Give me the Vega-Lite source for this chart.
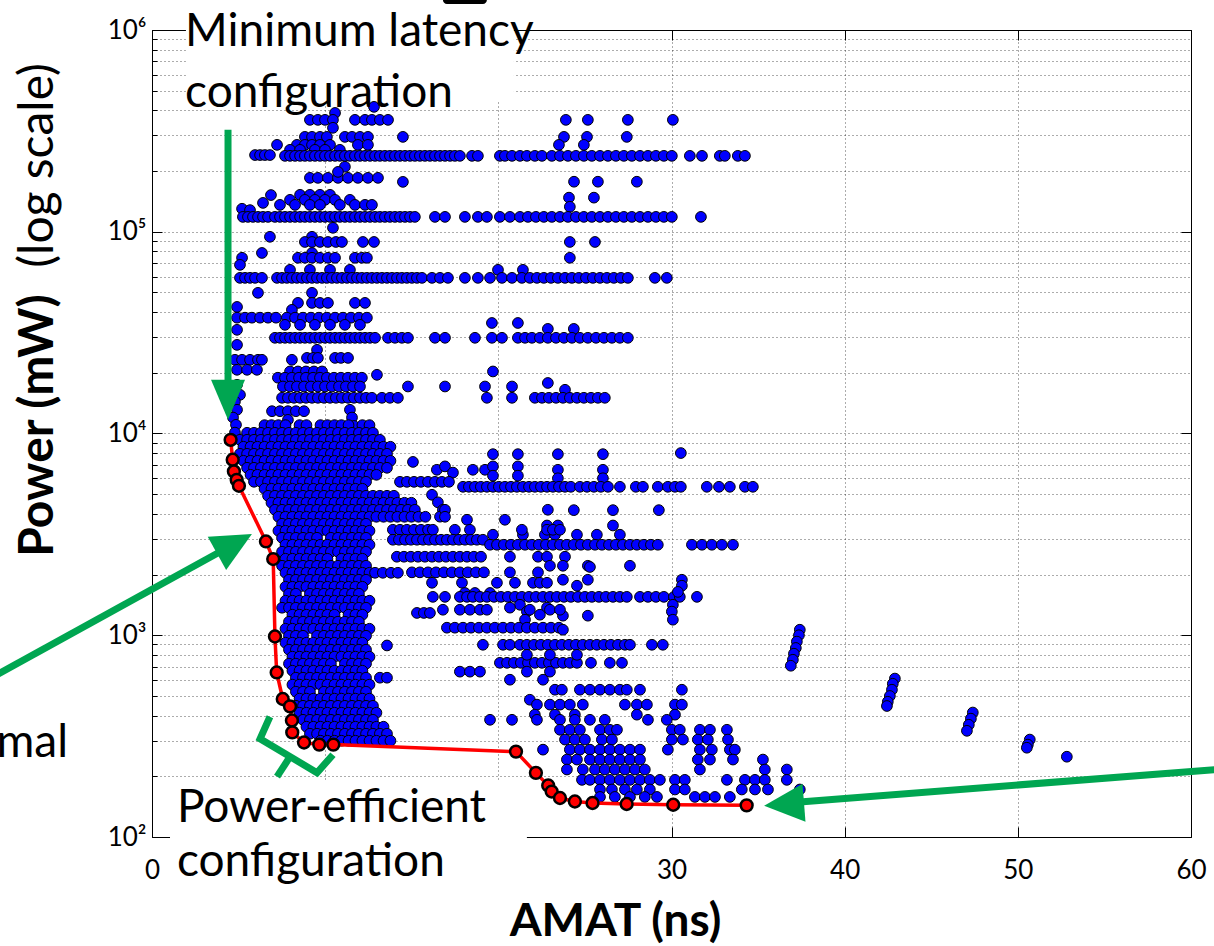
{
  "$schema": "https://vega.github.io/schema/vega-lite/v6.json",
  "width": 1039,
  "height": 807,
  "autosize": "none",
  "padding": {"left": 152, "top": 30, "right": 23, "bottom": 109},
  "background": "white",
  "config": {
    "font": "Lato",
    "view": {"stroke": "#000", "strokeWidth": 1},
    "axis": {"zindex": 0, "labelColor": "#000", "titleColor": "#000", "tickColor": "#000", "gridColor": "#000", "gridDash": [1, 3], "gridOpacity": 0.65, "gridWidth": 1, "labelFont": "Lato", "titleFont": "Lato", "labelFlush": false, "labelOverlap": false}
  },
  "resolve": {"axis": {"x": "independent", "y": "independent"}},
  "layer": [
    {
      "data": {"values": [{"a1": 1.96, "a2": 20.9, "p1": 445400, "p2": 1500000}, {"a1": 1.04, "a2": 21.65, "p1": 51.8, "p2": 190}]},
      "mark": {"type": "rect", "fill": "white", "strokeWidth": 0},
      "encoding": {
        "x": {"field": "a1", "type": "quantitative", "scale": {"domain": [0, 60], "nice": false, "zero": false}, "axis": null},
        "x2": {"field": "a2"},
        "y": {"field": "p1", "type": "quantitative", "scale": {"type": "log", "domain": [100, 1000000], "nice": false}, "axis": null},
        "y2": {"field": "p2"}
      }
    },
    {
      "data": {"values": "amat,power\n12.82,416000\n10.57,388000\n9.12,358600\n9.58,358600\n9.99,358600\n10.45,358600\n11.72,358600\n12.30,358600\n12.70,358600\n13.16,358600\n13.63,358600\n23.90,358600\n25.17,358600\n27.48,358600\n30.08,358600\n10.45,327500\n8.83,295300\n9.24,295300\n9.70,295300\n10.10,295300\n11.14,295300\n11.55,295300\n12.01,295300\n12.47,295300\n14.49,295300\n23.79,295300\n25.12,295300\n27.42,295300\n7.22,269600\n8.37,269600\n8.83,269600\n9.24,269600\n9.70,269600\n10.28,269600\n11.89,269600\n12.47,269600\n23.50,269600\n24.94,269600\n7.97,254700\n8.55,254700\n9.41,254700\n9.99,254700\n10.85,254700\n5.95,240000\n6.24,240000\n6.52,240000\n6.81,240000\n7.68,237800\n7.97,237800\n8.26,237800\n8.55,237800\n8.83,237800\n9.12,237800\n9.41,237800\n9.70,237800\n9.99,237800\n10.28,237800\n10.57,237800\n10.85,237800\n11.14,237800\n11.43,237800\n11.72,237800\n12.01,237800\n12.30,237800\n12.59,237800\n12.88,237800\n13.16,237800\n13.45,237800\n13.74,237800\n14.03,237800\n14.32,237800\n14.61,237800\n14.90,237800\n15.18,237800\n15.47,237800\n15.76,237800\n16.05,237800\n16.34,237800\n16.63,237800\n16.92,237800\n17.21,237800\n17.49,237800\n17.78,237800\n18.48,237800\n18.82,237800\n20.09,237800\n20.38,237800\n20.79,237800\n21.25,237800\n21.65,237800\n22.11,237800\n22.52,237800\n23.09,237800\n23.56,237800\n24.02,237800\n24.48,237800\n24.94,237800\n25.40,237800\n25.87,237800\n26.33,237800\n26.79,237800\n27.25,237800\n27.71,237800\n28.18,237800\n28.64,237800\n29.10,237800\n29.56,237800\n30.02,237800\n31.06,237800\n31.76,237800\n32.79,237800\n33.08,237800\n33.83,237800\n34.24,237800\n6.41,139000\n6.87,152000\n9.12,185000\n9.58,185000\n10.16,185000\n10.74,185000\n11.32,185000\n11.89,185000\n12.47,185000\n13.05,185000\n14.49,176700\n11.14,210000\n10.74,198000\n24.37,177000\n25.75,177000\n28.00,177000\n24.08,147600\n25.52,147600\n24.13,133000\n8.55,152400\n9.12,152400\n9.70,152400\n10.28,152400\n7.97,143900\n8.83,143900\n9.41,143900\n9.99,143900\n10.57,143900\n11.43,143900\n7.39,135900\n8.26,135900\n9.12,135900\n9.70,135900\n10.85,135900\n11.72,135900\n12.30,135900\n12.70,135900\n5.20,130000\n5.66,128000\n5.25,118500\n5.54,118500\n5.83,118500\n6.12,118500\n6.41,118500\n6.70,118500\n7.10,118500\n7.39,118500\n7.68,118500\n7.97,118500\n8.26,118500\n8.55,118500\n8.83,118500\n9.12,118500\n9.41,118500\n9.70,118500\n9.99,118500\n10.28,118500\n10.57,118500\n10.85,118500\n11.14,118500\n11.43,118500\n11.72,118500\n12.01,118500\n12.30,118500\n12.59,118500\n12.88,118500\n13.16,118500\n13.45,118500\n13.74,118500\n14.03,118500\n14.32,118500\n14.61,118500\n14.90,118500\n15.18,118500\n16.34,118500\n16.92,118500\n18.07,118500\n18.82,118500\n19.34,118500\n20.09,118500\n20.67,118500\n21.25,118500\n21.71,118500\n22.17,118500\n22.63,118500\n23.09,118500\n23.56,118500\n24.02,118500\n24.48,118500\n24.94,118500\n25.40,118500\n25.87,118500\n26.33,118500\n26.79,118500\n27.25,118500\n27.71,118500\n28.18,118500\n28.64,118500\n29.10,118500\n29.56,118500\n30.02,118500\n31.70,118500\n10.45,104600\n6.81,94400\n9.24,94400\n8.83,89000\n9.24,89000\n9.70,89000\n10.16,89000\n10.62,89000\n10.97,89000\n12.18,89000\n12.82,89000\n6.35,78500\n9.24,78500\n5.20,74300\n8.43,74300\n8.83,74300\n9.24,74300\n9.70,74300\n10.16,74300\n10.57,74300\n11.72,74300\n12.12,74300\n12.41,74300\n19.98,64750\n21.42,64750\n24.13,74300\n24.13,89000\n25.58,89000\n5.08,68550\n7.97,64750\n9.12,64750\n10.28,64750\n11.43,64750\n5.08,59090\n5.37,59090\n5.66,59090\n5.95,59090\n6.35,59090\n7.22,59090\n7.51,59090\n7.79,59090\n8.08,59090\n8.37,59090\n8.66,59090\n8.95,59090\n9.24,59090\n9.53,59090\n9.82,59090\n10.10,59090\n10.39,59090\n10.68,59090\n10.97,59090\n11.26,59090\n11.55,59090\n11.84,59090\n12.12,59090\n12.41,59090\n12.70,59090\n12.99,59090\n13.28,59090\n13.57,59090\n13.86,59090\n14.15,59090\n14.43,59090\n14.72,59090\n15.01,59090\n15.30,59090\n15.59,59090\n16.17,59090\n16.63,59090\n17.09,59090\n18.07,59090\n18.82,59090\n19.52,59090\n20.21,59090\n20.79,59090\n21.36,59090\n21.82,59090\n22.23,59090\n22.63,59090\n23.04,59090\n23.44,59090\n23.85,59090\n24.25,59090\n24.65,59090\n25.06,59090\n25.46,59090\n25.87,59090\n26.27,59090\n26.67,59090\n27.08,59090\n27.48,59090\n29.04,59090\n29.73,59090\n6.12,49800\n9.24,49800\n8.43,44400\n9.24,44400\n9.70,44400\n10.16,44400\n11.72,44400\n12.30,44400\n4.91,42400\n8.08,41020\n4.91,37500\n5.37,37500\n5.77,37500\n6.24,37500\n6.70,37500\n7.16,37500\n7.79,37500\n8.26,37500\n8.72,37500\n9.18,37500\n9.64,37500\n10.10,37500\n10.57,37500\n11.03,37500\n11.49,37500\n11.95,37500\n12.41,37500\n7.68,34570\n8.55,34570\n9.41,34570\n10.28,34570\n11.14,34570\n12.01,34570\n19.63,35300\n21.13,35300\n22.86,33000\n24.36,33000\n4.91,32650\n7.10,29810\n7.39,29810\n7.68,29810\n7.97,29810\n8.26,29810\n8.55,29810\n8.83,29810\n9.12,29810\n9.41,29810\n9.70,29810\n9.99,29810\n10.28,29810\n10.57,29810\n10.85,29810\n11.14,29810\n11.43,29810\n11.72,29810\n12.01,29810\n12.30,29810\n12.59,29810\n12.88,29810\n13.63,29810\n14.03,29810\n14.43,29810\n14.78,29810\n16.34,29810\n16.92,29810\n18.65,29810\n19.63,29810\n20.21,29810\n21.13,29810\n21.54,29810\n21.94,29810\n22.40,29810\n22.86,29810\n23.33,29810\n23.79,29810\n24.25,29810\n24.71,29810\n25.17,29810\n25.64,29810\n26.10,29810\n26.56,29810\n27.02,29810\n27.48,29810\n4.91,27500\n4.79,23190\n5.20,23190\n5.66,23190\n6.12,23190\n6.35,23190\n8.08,23190\n4.91,20690\n5.49,20690\n6.06,20690\n9.53,25990\n8.95,23700\n9.30,23700\n9.58,23700\n10.57,23700\n10.91,23700\n11.32,23700\n7.97,20300\n8.43,20300\n8.89,20300\n9.35,20300\n9.82,20300\n19.69,20300\n7.27,18900\n7.68,18900\n8.08,18900\n8.49,18900\n8.89,18900\n9.30,18900\n9.70,18900\n10.10,18900\n10.51,18900\n10.91,18900\n11.32,18900\n11.72,18900\n12.12,18900\n12.99,19540\n7.56,17100\n7.97,17100\n8.37,17100\n8.78,17100\n9.18,17100\n9.58,17100\n9.99,17100\n10.39,17100\n10.80,17100\n11.20,17100\n11.61,17100\n12.01,17100\n14.78,17100\n16.92,17100\n19.23,17100\n20.79,17100\n22.86,17800\n23.85,16470\n4.91,17430\n5.08,15550\n7.51,15030\n7.85,15030\n8.20,15030\n8.55,15030\n8.89,15030\n9.24,15030\n9.58,15030\n9.93,15030\n10.28,15030\n10.62,15030\n10.97,15030\n11.32,15030\n11.66,15030\n12.01,15030\n12.36,15030\n12.70,15030\n13.28,15030\n13.74,15030\n14.20,15030\n19.34,15030\n20.79,15030\n22.11,15030\n22.52,15030\n22.92,15030\n23.33,15030\n23.73,15030\n24.13,15030\n24.54,15030\n24.94,15030\n25.35,15030\n25.75,15030\n26.15,15030\n4.79,14400\n4.91,13110\n4.68,12000\n4.85,11040\n4.79,10100\n6.93,12900\n7.39,12900\n7.85,12900\n8.31,12900\n8.78,12900\n11.43,13110\n11.55,12000\n11.66,10900\n7.85,11690\n8.55,10100\n7.97,9580\n9.99,9854\n11.14,9600\n11.72,8790\n12.12,9307\n6.52,9307\n6.50,11000\n6.90,11000\n7.30,11000\n7.71,11000\n8.52,11000\n8.92,11000\n9.73,11000\n10.13,11000\n10.54,11000\n10.94,11000\n11.35,11000\n12.15,11000\n12.56,11000\n5.49,10080\n5.89,10080\n6.29,10080\n6.70,10080\n7.10,10080\n7.51,10080\n7.91,10080\n8.31,10080\n8.72,10080\n9.12,10080\n9.53,10080\n9.93,10080\n10.33,10080\n10.74,10080\n11.14,10080\n11.55,10080\n11.95,10080\n12.36,10080\n12.76,10080\n5.08,9307\n5.49,9307\n5.89,9307\n6.29,9307\n6.70,9307\n7.10,9307\n7.51,9307\n7.91,9307\n8.31,9307\n8.72,9307\n9.12,9307\n9.53,9307\n9.93,9307\n10.33,9307\n10.74,9307\n11.14,9307\n11.55,9307\n11.95,9307\n12.36,9307\n12.76,9307\n13.16,9307\n5.28,8595\n5.69,8595\n6.09,8595\n6.50,8595\n6.90,8595\n7.30,8595\n7.71,8595\n8.11,8595\n8.52,8595\n8.92,8595\n9.32,8595\n9.73,8595\n10.13,8595\n10.54,8595\n10.94,8595\n11.35,8595\n11.75,8595\n12.15,8595\n12.56,8595\n12.96,8595\n13.37,8595\n13.77,8595\n5.08,7932\n5.49,7932\n5.89,7932\n6.29,7932\n6.70,7932\n7.10,7932\n7.51,7932\n7.91,7932\n8.31,7932\n8.72,7932\n9.12,7932\n9.53,7932\n9.93,7932\n10.33,7932\n10.74,7932\n11.14,7932\n11.55,7932\n11.95,7932\n12.36,7932\n12.76,7932\n13.16,7932\n13.57,7932\n5.28,7322\n5.69,7322\n6.09,7322\n6.50,7322\n6.90,7322\n7.30,7322\n7.71,7322\n8.11,7322\n8.52,7322\n8.92,7322\n9.32,7322\n9.73,7322\n10.13,7322\n10.54,7322\n10.94,7322\n11.35,7322\n11.75,7322\n12.15,7322\n12.56,7322\n12.96,7322\n13.37,7322\n13.77,7322\n5.49,6761\n5.89,6761\n6.29,6761\n6.70,6761\n7.10,6761\n7.51,6761\n7.91,6761\n8.31,6761\n8.72,6761\n9.12,6761\n9.53,6761\n9.93,6761\n10.33,6761\n10.74,6761\n11.14,6761\n11.55,6761\n11.95,6761\n12.36,6761\n12.76,6761\n13.16,6761\n13.57,6761\n5.69,6242\n6.09,6242\n6.50,6242\n6.90,6242\n7.30,6242\n7.71,6242\n8.11,6242\n8.52,6242\n8.92,6242\n9.32,6242\n9.73,6242\n10.13,6242\n10.54,6242\n10.94,6242\n11.35,6242\n11.75,6242\n12.15,6242\n12.56,6242\n12.96,6242\n5.89,5764\n6.29,5764\n6.70,5764\n7.10,5764\n7.51,5764\n7.91,5764\n8.31,5764\n8.72,5764\n9.12,5764\n9.53,5764\n9.93,5764\n10.33,5764\n10.74,5764\n11.14,5764\n11.55,5764\n11.95,5764\n12.36,5764\n6.50,5321\n6.90,5321\n7.30,5321\n7.71,5321\n8.11,5321\n8.52,5321\n8.92,5321\n9.32,5321\n9.73,5321\n10.13,5321\n10.54,5321\n10.94,5321\n11.35,5321\n11.75,5321\n12.15,5321\n6.70,4913\n7.10,4913\n7.51,4913\n7.91,4913\n8.31,4913\n8.72,4913\n9.12,4913\n9.53,4913\n9.93,4913\n10.33,4913\n10.74,4913\n11.14,4913\n11.55,4913\n11.95,4913\n12.36,4913\n12.76,4913\n13.16,4913\n13.57,4913\n13.97,4913\n6.90,4536\n7.30,4536\n7.71,4536\n8.11,4536\n8.52,4536\n8.92,4536\n9.32,4536\n9.73,4536\n10.13,4536\n10.54,4536\n10.94,4536\n11.35,4536\n11.75,4536\n12.15,4536\n12.56,4536\n12.96,4536\n13.37,4536\n13.77,4536\n14.17,4536\n14.58,4536\n14.98,4536\n7.10,4187\n7.51,4187\n7.91,4187\n8.31,4187\n8.72,4187\n9.12,4187\n9.53,4187\n9.93,4187\n10.33,4187\n10.74,4187\n11.14,4187\n11.55,4187\n11.95,4187\n12.36,4187\n12.76,4187\n13.16,4187\n13.57,4187\n13.97,4187\n14.38,4187\n14.78,4187\n15.18,4187\n7.30,3866\n7.71,3866\n8.11,3866\n8.52,3866\n8.92,3866\n9.32,3866\n9.73,3866\n10.13,3866\n10.54,3866\n10.94,3866\n11.35,3866\n11.75,3866\n12.15,3866\n12.56,3866\n12.96,3866\n13.37,3866\n13.77,3866\n14.17,3866\n14.58,3866\n14.98,3866\n15.39,3866\n15.79,3866\n7.51,3569\n7.91,3569\n8.31,3569\n8.72,3569\n9.12,3569\n9.53,3569\n9.93,3569\n10.33,3569\n10.74,3569\n11.14,3569\n11.55,3569\n11.95,3569\n12.36,3569\n7.30,3295\n7.71,3295\n8.11,3295\n8.52,3295\n8.92,3295\n9.32,3295\n9.73,3295\n10.13,3295\n10.54,3295\n10.94,3295\n11.35,3295\n11.75,3295\n12.15,3295\n12.56,3295\n7.51,3042\n7.91,3042\n8.31,3042\n8.72,3042\n9.12,3042\n9.53,3042\n10.33,3042\n10.74,3042\n11.14,3042\n11.55,3042\n11.95,3042\n12.36,3042\n7.71,2809\n8.11,2809\n8.52,2809\n8.92,2809\n9.32,2809\n9.73,2809\n10.13,2809\n10.54,2809\n10.94,2809\n11.35,2809\n11.75,2809\n12.15,2809\n12.56,2809\n7.51,2593\n7.91,2593\n8.31,2593\n8.72,2593\n9.12,2593\n9.53,2593\n9.93,2593\n10.33,2593\n10.74,2593\n11.14,2593\n11.55,2593\n11.95,2593\n12.36,2593\n7.71,2394\n8.11,2394\n8.52,2394\n8.92,2394\n9.32,2394\n9.73,2394\n10.13,2394\n10.94,2394\n11.35,2394\n11.75,2394\n12.15,2394\n7.51,2210\n7.91,2210\n8.31,2210\n8.72,2210\n9.12,2210\n9.53,2210\n9.93,2210\n10.33,2210\n10.74,2210\n11.14,2210\n11.55,2210\n11.95,2210\n12.36,2210\n7.71,2040\n8.11,2040\n8.52,2040\n8.92,2040\n9.32,2040\n9.73,2040\n10.13,2040\n10.54,2040\n10.94,2040\n11.35,2040\n11.75,2040\n12.15,2040\n12.56,2040\n12.88,2040\n13.33,2040\n13.80,2040\n14.20,2040\n7.91,1884\n8.31,1884\n8.72,1884\n9.12,1884\n9.53,1884\n9.93,1884\n10.33,1884\n10.74,1884\n11.14,1884\n11.55,1884\n11.95,1884\n12.36,1884\n7.71,1739\n8.11,1739\n8.52,1739\n8.92,1739\n9.32,1739\n9.73,1739\n10.13,1739\n10.54,1739\n10.94,1739\n11.35,1739\n11.75,1739\n12.15,1739\n7.91,1606\n8.31,1606\n9.12,1606\n9.53,1606\n9.93,1606\n10.33,1606\n10.74,1606\n11.14,1606\n11.55,1606\n11.95,1606\n7.71,1483\n8.11,1483\n8.52,1483\n8.92,1483\n9.32,1483\n9.73,1483\n10.13,1483\n10.54,1483\n10.94,1483\n11.35,1483\n11.75,1483\n12.15,1483\n12.56,1483\n7.51,1369\n7.91,1369\n8.31,1369\n8.72,1369\n9.12,1369\n9.53,1369\n9.93,1369\n10.33,1369\n10.74,1369\n11.14,1369\n11.55,1369\n11.95,1369\n12.36,1369\n8.11,1264\n8.52,1264\n8.92,1264\n9.32,1264\n9.73,1264\n10.13,1264\n10.54,1264\n11.35,1264\n11.75,1264\n12.15,1264\n7.91,1167\n8.31,1167\n8.72,1167\n9.12,1167\n9.53,1167\n9.93,1167\n10.33,1167\n10.74,1167\n11.14,1167\n11.55,1167\n11.95,1167\n7.71,1077\n8.11,1077\n8.52,1077\n8.92,1077\n9.32,1077\n9.73,1077\n10.13,1077\n10.54,1077\n10.94,1077\n11.35,1077\n11.75,1077\n12.15,1077\n12.56,1077\n7.91,994\n8.31,994\n8.72,994\n9.53,994\n9.93,994\n10.33,994\n10.74,994\n11.14,994\n11.55,994\n11.95,994\n12.36,994\n7.71,918\n8.11,918\n8.52,918\n8.92,918\n9.32,918\n9.73,918\n10.13,918\n10.54,918\n10.94,918\n11.35,918\n11.75,918\n12.15,918\n7.91,848\n8.31,848\n8.72,848\n9.12,848\n9.53,848\n9.93,848\n10.33,848\n10.74,848\n11.14,848\n11.55,848\n11.95,848\n12.36,848\n8.11,783\n8.52,783\n8.92,783\n9.32,783\n9.73,783\n10.13,783\n10.54,783\n10.94,783\n11.35,783\n11.75,783\n12.15,783\n12.56,783\n7.91,723\n8.31,723\n8.72,723\n9.12,723\n9.53,723\n9.93,723\n10.33,723\n11.14,723\n11.55,723\n11.95,723\n12.36,723\n8.11,667\n8.52,667\n8.92,667\n9.32,667\n9.73,667\n10.13,667\n10.54,667\n10.94,667\n11.35,667\n11.75,667\n12.15,667\n8.31,616\n8.72,616\n9.12,616\n9.53,616\n9.93,616\n10.33,616\n10.74,616\n11.14,616\n11.55,616\n11.95,616\n12.36,616\n13.16,616\n13.57,616\n8.11,569\n8.52,569\n8.92,569\n9.32,569\n9.73,569\n10.13,569\n10.54,569\n10.94,569\n11.35,569\n11.75,569\n12.15,569\n12.56,569\n8.31,525\n8.72,525\n9.12,525\n9.93,525\n10.33,525\n10.74,525\n11.14,525\n11.55,525\n11.95,525\n12.36,525\n8.52,485\n8.92,485\n9.32,485\n9.73,485\n10.13,485\n10.54,485\n10.94,485\n11.35,485\n11.75,485\n12.15,485\n12.56,485\n8.31,447\n8.72,447\n9.12,447\n9.53,447\n9.93,447\n10.33,447\n10.74,447\n11.14,447\n11.55,447\n11.95,447\n12.36,447\n12.76,447\n8.52,413\n8.92,413\n9.32,413\n9.73,413\n10.13,413\n10.54,413\n10.94,413\n11.35,413\n11.75,413\n12.15,413\n12.56,413\n12.96,413\n8.72,381\n9.12,381\n9.53,381\n9.93,381\n10.33,381\n10.74,381\n11.14,381\n11.55,381\n11.95,381\n12.36,381\n12.76,381\n8.92,352\n9.32,352\n9.73,352\n10.13,352\n10.54,352\n10.94,352\n11.35,352\n11.75,352\n12.15,352\n12.56,352\n12.96,352\n13.37,352\n9.12,325\n9.53,325\n9.93,325\n10.33,325\n10.74,325\n11.14,325\n11.55,325\n11.95,325\n12.36,325\n12.76,325\n13.16,325\n13.57,325\n9.73,300\n10.13,300\n10.54,300\n10.94,300\n11.35,300\n11.75,300\n12.15,300\n12.56,300\n12.96,300\n13.37,300\n13.77,300\n19.69,7900\n21.13,7900\n23.44,7900\n26.04,7900\n30.54,8000\n15.07,7230\n19.23,6609\n19.69,6870\n19.69,6180\n21.13,6870\n21.13,6180\n23.44,6609\n23.44,6000\n26.04,6609\n26.04,6000\n16.45,6609\n16.92,6870\n17.38,6400\n18.53,6609\n14.32,5760\n14.72,5760\n15.13,5760\n15.53,5760\n15.94,5760\n16.34,5760\n16.74,5760\n17.15,5760\n17.96,5443\n18.30,5443\n18.65,5443\n18.99,5443\n19.34,5443\n19.69,5443\n20.03,5443\n20.38,5443\n20.73,5443\n21.07,5443\n21.42,5443\n21.77,5443\n22.11,5443\n22.46,5443\n22.81,5443\n23.15,5443\n23.50,5443\n23.85,5443\n24.19,5443\n24.71,5443\n25.12,5443\n25.52,5443\n25.92,5443\n26.33,5443\n27.02,5443\n27.94,5443\n28.35,5443\n29.21,5443\n29.79,5443\n30.20,5443\n30.54,5443\n32.04,5443\n32.74,5443\n33.37,5443\n34.24,5443\n34.70,5443\n16.17,4968\n16.51,4560\n16.80,4187\n16.63,3870\n16.92,4187\n18.19,3736\n20.38,3736\n22.86,4187\n24.36,4170\n26.62,4170\n29.27,4170\n22.81,3500\n23.44,3500\n26.62,3500\n19.69,3150\n21.42,3150\n22.69,3150\n23.27,3150\n24.54,3150\n25.69,3150\n27.02,3150\n16.92,3866\n13.91,3333\n14.32,3333\n14.72,3333\n15.13,3333\n15.53,3333\n15.94,3333\n16.22,3333\n17.49,3333\n18.36,3333\n21.36,3333\n22.81,3333\n23.15,3333\n23.56,3333\n13.91,2974\n14.26,2974\n14.61,2974\n14.95,2974\n15.30,2974\n15.65,2974\n15.99,2974\n16.34,2974\n16.69,2974\n17.03,2974\n17.38,2974\n17.73,2974\n18.07,2974\n18.42,2974\n18.76,2974\n19.11,2974\n19.52,2809\n19.92,2809\n20.32,2809\n20.73,2809\n21.13,2809\n21.54,2809\n21.94,2809\n22.34,2809\n22.75,2809\n23.15,2809\n23.56,2809\n23.96,2809\n24.36,2809\n24.77,2809\n25.17,2809\n25.58,2809\n25.98,2809\n26.39,2809\n26.79,2809\n27.19,2809\n27.60,2809\n28.00,2809\n28.41,2809\n28.81,2809\n29.21,2809\n31.18,2809\n31.76,2809\n32.33,2809\n32.91,2809\n33.55,2809\n14.14,2450\n14.55,2450\n14.95,2450\n15.36,2450\n15.76,2450\n16.17,2450\n16.57,2450\n16.97,2450\n17.38,2450\n17.78,2450\n18.19,2450\n18.59,2450\n19.00,2450\n20.67,2450\n22.29,2450\n22.81,2450\n23.85,2450\n22.98,2210\n23.73,2210\n25.17,2210\n27.60,2210\n25.29,2180\n15.01,2050\n15.47,2050\n15.94,2050\n16.40,2050\n16.86,2050\n17.32,2050\n17.78,2050\n18.24,2050\n18.71,2050\n19.17,2050\n20.67,2050\n22.29,2050\n23.73,1884\n25.17,1884\n30.60,1884\n16.17,1820\n17.90,1820\n19.92,1820\n20.96,1820\n22.00,1820\n22.40,1820\n22.81,1820\n24.54,1760\n30.60,1760\n18.07,1620\n18.65,1620\n19.52,1620\n16.22,1550\n16.92,1550\n17.78,1550\n18.19,1550\n18.53,1550\n18.94,1550\n19.34,1550\n19.75,1550\n20.15,1550\n20.55,1550\n20.96,1550\n21.36,1550\n21.77,1550\n22.17,1550\n22.58,1550\n22.98,1550\n23.38,1550\n23.79,1550\n24.19,1550\n24.60,1550\n25.00,1550\n25.40,1550\n25.81,1550\n26.21,1550\n26.62,1550\n27.02,1550\n27.42,1550\n28.18,1550\n28.64,1550\n29.10,1550\n29.56,1550\n30.14,1550\n30.48,1550\n31.47,1550\n30.37,1640\n30.08,1416\n30.02,1310\n30.08,1194\n21.25,1416\n21.65,1310\n22.81,1370\n20.67,1370\n23.73,1250\n25.17,1250\n21.54,1194\n22.40,1264\n16.80,1338\n17.78,1338\n18.36,1338\n18.94,1338\n19.34,1338\n21.82,1338\n22.98,1338\n23.56,1338\n15.30,1290\n15.70,1290\n16.05,1290\n17.03,1090\n17.49,1090\n17.96,1090\n18.42,1090\n18.88,1090\n19.34,1090\n19.80,1090\n20.27,1090\n20.73,1090\n21.19,1090\n21.65,1090\n22.11,1090\n22.58,1090\n23.04,1090\n23.50,1090\n23.73,1065\n13.57,890\n19.11,897\n20.27,897\n20.67,897\n21.25,897\n21.65,897\n22.06,897\n22.46,897\n22.86,897\n23.27,897\n23.67,897\n24.08,897\n24.48,897\n24.88,897\n25.29,897\n25.69,897\n26.10,897\n26.50,897\n26.91,897\n27.31,897\n27.60,897\n28.87,897\n29.50,897\n20.09,730\n20.50,730\n20.90,730\n21.30,730\n21.71,730\n22.11,730\n22.52,730\n22.92,730\n23.33,730\n23.73,730\n24.13,730\n24.54,730\n25.35,730\n26.44,730\n27.14,730\n21.65,800\n22.98,800\n24.54,800\n17.78,660\n18.36,660\n18.94,660\n21.65,660\n22.98,660\n20.67,602\n22.58,602\n23.27,537\n23.67,537\n24.71,537\n25.29,537\n25.87,537\n26.44,537\n27.02,537\n27.42,537\n28.18,537\n30.60,537\n21.82,479\n22.23,453\n22.98,453\n23.56,453\n24.13,453\n24.88,453\n27.31,453\n28.00,453\n28.58,453\n30.20,453\n30.60,453\n22.11,404\n23.27,404\n24.42,404\n28.00,404\n30.20,404\n19.52,381\n20.79,381\n22.23,381\n23.56,381\n24.42,381\n25.29,381\n26.15,381\n28.64,381\n29.73,381\n23.56,340\n24.13,340\n24.71,340\n25.87,340\n26.44,340\n26.85,340\n30.02,340\n30.48,340\n31.64,340\n32.22,340\n33.20,340\n23.85,304\n24.42,304\n25.00,304\n25.98,304\n26.56,304\n30.02,304\n30.66,304\n31.52,304\n32.10,304\n33.26,304\n22.58,271\n24.13,271\n24.71,271\n25.29,271\n25.87,271\n26.44,271\n27.02,271\n27.60,271\n28.18,271\n29.79,271\n31.64,271\n32.33,271\n33.37,271\n33.66,271\n23.96,242\n24.54,242\n25.29,242\n25.87,242\n26.44,242\n27.02,242\n27.60,242\n28.18,242\n31.52,242\n32.22,242\n33.55,242\n35.28,242\n23.96,216\n24.88,216\n25.58,216\n26.15,216\n26.73,216\n27.31,216\n27.89,216\n28.46,216\n31.64,216\n35.39,216\n36.66,216\n24.83,192\n25.29,192\n25.87,192\n26.44,192\n27.02,192\n27.60,192\n28.18,192\n28.75,192\n29.33,192\n30.20,192\n30.77,192\n33.20,192\n34.24,192\n34.82,192\n35.39,192\n36.66,192\n25.87,172\n26.56,172\n27.31,172\n28.00,172\n28.75,172\n30.20,172\n30.77,172\n34.06,172\n34.82,172\n35.57,172\n37.41,172\n25.87,158\n26.73,158\n27.60,158\n28.46,158\n29.16,158\n31.35,158\n31.93,158\n32.51,158\n33.37,158\n37.41,1065\n37.36,1000\n37.24,930\n37.18,865\n37.07,810\n37.01,756\n36.89,706\n42.90,610\n42.78,575\n42.73,537\n42.61,500\n42.49,468\n42.44,446\n47.40,414\n47.29,386\n47.17,360\n47.06,336\n50.69,304\n50.58,287\n50.52,277\n52.83,250", "format": {"type": "csv", "parse": {"amat": "number", "power": "number"}}},
      "mark": {"type": "point", "shape": "circle", "filled": true, "fill": "#0000ff", "stroke": "#000", "strokeWidth": 1, "size": 115, "opacity": 1},
      "encoding": {
        "x": {"field": "amat", "type": "quantitative", "scale": {"domain": [0, 60], "nice": false, "zero": false},
          "axis": {"orient": "bottom", "values": [0, 10, 20, 30, 40, 50, 60], "grid": true, "domain": false, "tickSize": -10, "labelFontSize": 26, "labelPadding": 30, "labelExpr": "datum.value == 10 || datum.value == 20 ? '' : datum.label", "title": "AMAT (ns)", "titleFontSize": 46, "titleFontWeight": "bold", "titleX": 463, "titleY": 98, "titleBaseline": "alphabetic", "titleAlign": "center", "titleAnchor": null}},
        "y": {"field": "power", "type": "quantitative", "scale": {"type": "log", "domain": [100, 1000000], "nice": false},
          "axis": {"orient": "left", "values": [100, 1000, 10000, 100000, 1000000], "grid": true, "domain": false, "tickSize": -10, "labelFontSize": 26, "labelPadding": 16, "labelBaseline": "middle", "labelExpr": "datum.value == 100 ? '10²' : datum.value == 1000 ? '10³' : datum.value == 10000 ? '10⁴' : datum.value == 100000 ? '10⁵' : '10⁶'", "title": "Power (mW)", "titleFontSize": 48, "titleFontWeight": "bold", "titleX": -100, "titleY": 395, "titleAngle": 270, "titleBaseline": "alphabetic", "titleAlign": "center", "titleAnchor": null}}
      }
    },
    {
      "data": {"name": "pareto", "values": [
        {"amat": 4.54, "power": 9305}, {"amat": 4.66, "power": 7413}, {"amat": 4.73, "power": 6486}, {"amat": 4.89, "power": 5893}, {"amat": 5.02, "power": 5505},
        {"amat": 6.58, "power": 2917}, {"amat": 7.00, "power": 2386}, {"amat": 7.10, "power": 986}, {"amat": 7.20, "power": 654}, {"amat": 7.55, "power": 483},
        {"amat": 7.97, "power": 444}, {"amat": 8.08, "power": 378}, {"amat": 8.10, "power": 330}, {"amat": 8.78, "power": 294}, {"amat": 9.66, "power": 287},
        {"amat": 10.47, "power": 287}, {"amat": 21.02, "power": 265}, {"amat": 22.17, "power": 208}, {"amat": 22.88, "power": 180}, {"amat": 23.08, "power": 168},
        {"amat": 23.56, "power": 156}, {"amat": 24.42, "power": 150}, {"amat": 25.44, "power": 147.4}, {"amat": 27.41, "power": 145.7}, {"amat": 30.10, "power": 144.5}, {"amat": 34.34, "power": 143.5}
      ]},
      "mark": {"type": "line", "color": "#ff0000", "strokeWidth": 3.5},
      "encoding": {
        "x": {"field": "amat", "type": "quantitative", "scale": {"domain": [0, 60], "nice": false, "zero": false},
          "axis": {"orient": "top", "values": [0, 10, 20, 30, 40, 50, 60], "grid": false, "domain": false, "labels": false, "tickSize": -10, "title": null}},
        "y": {"field": "power", "type": "quantitative", "scale": {"type": "log", "domain": [100, 1000000], "nice": false},
          "axis": {"orient": "left", "values": [200, 300, 400, 500, 600, 700, 800, 900, 2000, 3000, 4000, 5000, 6000, 7000, 8000, 9000, 20000, 30000, 40000, 50000, 60000, 70000, 80000, 90000, 200000, 300000, 400000, 500000, 600000, 700000, 800000, 900000], "grid": true, "domain": false, "labels": false, "tickSize": -5, "title": "(log scale)", "titleFontSize": 48, "titleFontWeight": "normal", "titleX": -100, "titleY": 135, "titleAngle": 270, "titleBaseline": "alphabetic", "titleAlign": "center", "titleAnchor": null}}
      }
    },
    {
      "data": {"name": "pareto"},
      "mark": {"type": "point", "shape": "circle", "filled": true, "fill": "#ff0000", "stroke": "#000", "strokeWidth": 2.5, "size": 140, "opacity": 1},
      "encoding": {
        "x": {"field": "amat", "type": "quantitative", "scale": {"domain": [0, 60], "nice": false, "zero": false}, "axis": null},
        "y": {"field": "power", "type": "quantitative", "scale": {"type": "log", "domain": [100, 1000000], "nice": false},
          "axis": {"orient": "right", "values": [100, 1000, 10000, 100000, 1000000], "grid": false, "domain": false, "labels": false, "tickSize": -10, "title": null}}
      }
    },
    {
      "data": {"values": [{"a1": 16.8, "a2": 19.34, "p1": 1346000, "p2": 1500000}]},
      "mark": {"type": "rect", "fill": "#000", "cornerRadius": 4},
      "encoding": {
        "x": {"field": "a1", "type": "quantitative", "scale": {"domain": [0, 60], "nice": false, "zero": false}, "axis": null},
        "x2": {"field": "a2"},
        "y": {"field": "p1", "type": "quantitative", "scale": {"type": "log", "domain": [100, 1000000], "nice": false}, "axis": null},
        "y2": {"field": "p2"}
      }
    },
    {
      "data": {"values": [
        {"amat": 1.91, "power": 834000, "label": "Minimum latency"},
        {"amat": 1.91, "power": 416000, "label": "configuration"},
        {"amat": 1.44, "power": 119.1, "label": "Power-efficient"},
        {"amat": 1.44, "power": 64.3, "label": "configuration"}
      ]},
      "mark": {"type": "text", "align": "left", "baseline": "alphabetic", "font": "Lato", "fontSize": 46, "color": "#000"},
      "encoding": {
        "x": {"field": "amat", "type": "quantitative", "scale": {"domain": [0, 60], "nice": false, "zero": false}, "axis": null},
        "y": {"field": "power", "type": "quantitative", "scale": {"type": "log", "domain": [100, 1000000], "nice": false}, "axis": null},
        "text": {"field": "label"}
      }
    },
    {
      "data": {"values": [{"amat": -4.85, "power": 250, "label": "Pareto-optimal"}]},
      "mark": {"type": "text", "align": "right", "baseline": "alphabetic", "font": "Lato", "fontSize": 46, "color": "#000"},
      "encoding": {
        "x": {"field": "amat", "type": "quantitative", "scale": {"domain": [0, 60], "nice": false, "zero": false}, "axis": null},
        "y": {"field": "power", "type": "quantitative", "scale": {"type": "log", "domain": [100, 1000000], "nice": false}, "axis": null},
        "text": {"field": "label"}
      }
    },
    {
      "data": {"values": [
        {"amat": 4.39, "power": 319900, "amat2": 4.39, "power2": 17430},
        {"amat": -9.06, "power": 630, "amat2": 4.04, "power2": 2622},
        {"amat": 61.66, "power": 216.7, "amat2": 37.41, "power2": 149.1}
      ]},
      "mark": {"type": "rule", "color": "#00a651", "strokeWidth": 7},
      "encoding": {
        "x": {"field": "amat", "type": "quantitative", "scale": {"domain": [0, 60], "nice": false, "zero": false}, "axis": null},
        "x2": {"field": "amat2"},
        "y": {"field": "power", "type": "quantitative", "scale": {"type": "log", "domain": [100, 1000000], "nice": false}, "axis": null},
        "y2": {"field": "power2"}
      }
    },
    {
      "data": {"values": [{"amat": 4.39, "power": 14690}]},
      "mark": {"type": "point", "shape": "M 0 -1 L 0.85 1 L -0.85 1 Z", "size": 1600, "filled": true, "fill": "#00a651", "strokeWidth": 0, "angle": 180, "opacity": 1},
      "encoding": {
        "x": {"field": "amat", "type": "quantitative", "scale": {"domain": [0, 60], "nice": false, "zero": false}, "axis": null},
        "y": {"field": "power", "type": "quantitative", "scale": {"type": "log", "domain": [100, 1000000], "nice": false}, "axis": null}
      }
    },
    {
      "data": {"values": [{"amat": 4.76, "power": 2844}]},
      "mark": {"type": "point", "shape": "M 0 -1 L 0.95 1 L -0.95 1 Z", "size": 1600, "filled": true, "fill": "#00a651", "strokeWidth": 0, "angle": 61, "opacity": 1},
      "encoding": {
        "x": {"field": "amat", "type": "quantitative", "scale": {"domain": [0, 60], "nice": false, "zero": false}, "axis": null},
        "y": {"field": "power", "type": "quantitative", "scale": {"type": "log", "domain": [100, 1000000], "nice": false}, "axis": null}
      }
    },
    {
      "data": {"values": [{"amat": 36.50, "power": 145.3}]},
      "mark": {"type": "point", "shape": "M 0 -1 L 0.95 1 L -0.95 1 Z", "size": 1600, "filled": true, "fill": "#00a651", "strokeWidth": 0, "angle": 265.5, "opacity": 1},
      "encoding": {
        "x": {"field": "amat", "type": "quantitative", "scale": {"domain": [0, 60], "nice": false, "zero": false}, "axis": null},
        "y": {"field": "power", "type": "quantitative", "scale": {"type": "log", "domain": [100, 1000000], "nice": false}, "axis": null}
      }
    },
    {
      "data": {"values": [
        {"amat": 6.81, "power": 394.6, "seq": 1},
        {"amat": 6.24, "power": 306.9, "seq": 2},
        {"amat": 9.53, "power": 208.3, "seq": 3},
        {"amat": 10.45, "power": 255.8, "seq": 4}
      ]},
      "mark": {"type": "line", "color": "#00a651", "strokeWidth": 7, "strokeJoin": "miter", "strokeCap": "butt"},
      "encoding": {
        "x": {"field": "amat", "type": "quantitative", "scale": {"domain": [0, 60], "nice": false, "zero": false}, "axis": null},
        "y": {"field": "power", "type": "quantitative", "scale": {"type": "log", "domain": [100, 1000000], "nice": false}, "axis": null},
        "order": {"field": "seq", "type": "quantitative"}
      }
    },
    {
      "data": {"values": [{"amat": 7.97, "power": 250.0, "amat2": 7.22, "power2": 199.0}]},
      "mark": {"type": "rule", "color": "#00a651", "strokeWidth": 7},
      "encoding": {
        "x": {"field": "amat", "type": "quantitative", "scale": {"domain": [0, 60], "nice": false, "zero": false}, "axis": null},
        "x2": {"field": "amat2"},
        "y": {"field": "power", "type": "quantitative", "scale": {"type": "log", "domain": [100, 1000000], "nice": false}, "axis": null},
        "y2": {"field": "power2"}
      }
    }
  ]
}
